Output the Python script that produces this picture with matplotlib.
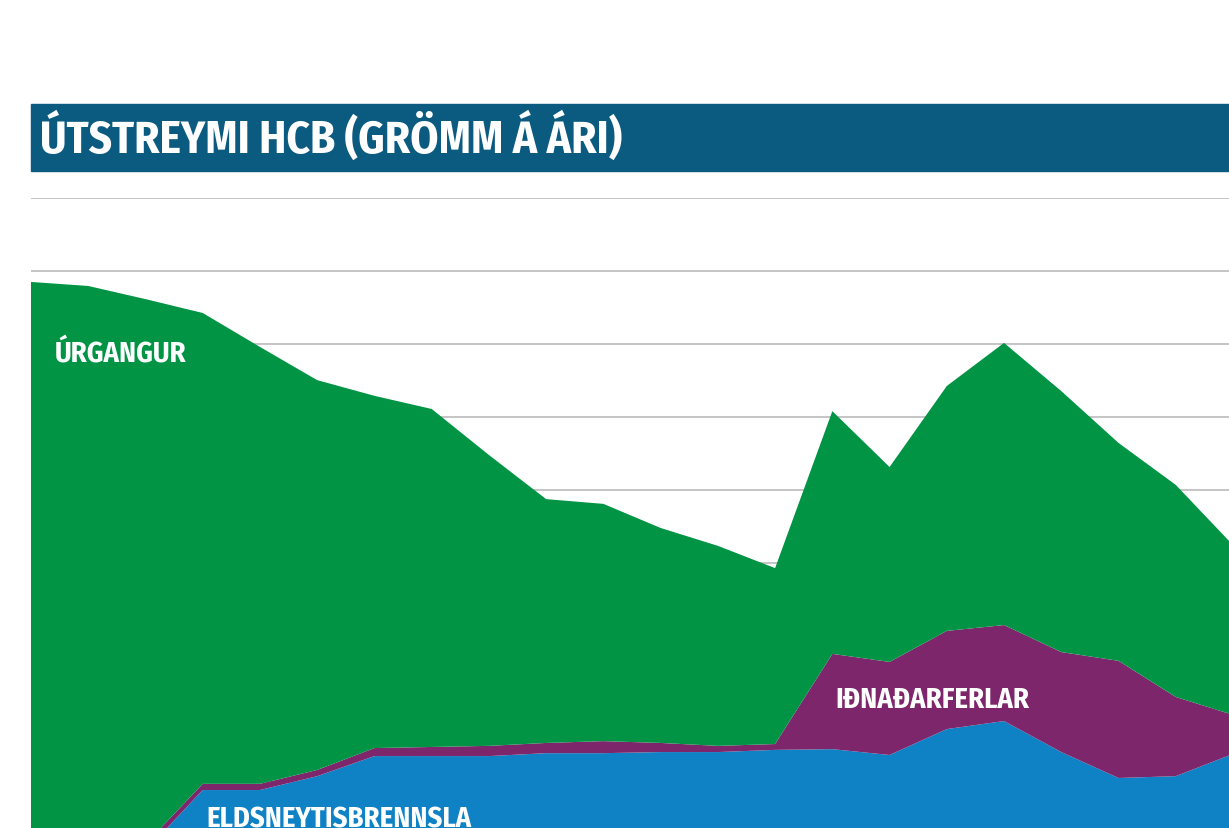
import matplotlib
matplotlib.use('Agg')
import numpy as np
import matplotlib.pyplot as plt
from matplotlib.patches import Rectangle

years = list(range(1990, 2012))

# grömm á ári, lesið af myndinni
eldsneyti = [0.00, 0.00, 0.11, 1.78, 1.78, 2.16, 2.71, 2.71, 2.71, 2.79, 2.79,
             2.82, 2.82, 2.88, 2.90, 2.74, 3.45, 3.67, 2.82, 2.11, 2.16, 2.77]
idnadur = [0.00, 0.00, 0.19, 0.17, 0.17, 0.17, 0.22, 0.25, 0.28, 0.28, 0.33,
           0.25, 0.17, 0.16, 2.61, 2.55, 2.69, 2.63, 2.74, 3.21, 2.17, 1.07]
urgangur = [15.70, 15.59, 14.93, 12.90, 11.97, 10.68, 9.65, 9.26, 7.97, 6.68, 6.50,
            5.89, 5.48, 4.82, 6.65, 5.34, 6.71, 7.73, 7.15, 5.97, 5.81, 4.65]

colors = ['#0F82C6', '#7D266B', '#009444']
grid_ticks = list(range(2, 20, 2))

plt.rcParams['font.family'] = ['Fira Sans Condensed', 'DejaVu Sans']

fig = plt.figure(figsize=(12.29, 8.29), dpi=100)

# title band
fig.patches.append(Rectangle((31 / 1229, (829 - 172) / 829), 1.0, 67 / 829,
                             transform=fig.transFigure, color='#0B5A80', zorder=0))
fig.text(40 / 1229, (829 - 153) / 829, 'ÚTSTREYMI HCB (GRÖMM Á ÁRI)',
         color='white', fontsize=32.5, fontweight='bold', va='baseline', ha='left')

ax = fig.add_axes([31 / 1229, -27 / 829, 1202 / 1229, 657 / 829])
ax.stackplot(years, eldsneyti, idnadur, urgangur, colors=colors, lw=0, zorder=2)
for g in grid_ticks:
    ax.axhline(g, color='#B5B5B5', lw=1.1, zorder=1)
ax.set_xlim(1990, 2011)
ax.set_ylim(0, 18)
ax.axis('off')

lbl = dict(color='white', fontsize=20.5, fontweight='bold', va='baseline', ha='left', zorder=3)
ax.text(1990.41, 13.51, 'ÚRGANGUR', **lbl)
ax.text(2004.06, 4.05, 'IÐNAÐARFERLAR', **lbl)
ax.text(1993.07, 0.77, 'ELDSNEYTISBRENNSLA', **lbl)

fig.savefig('out.png', dpi=100)
